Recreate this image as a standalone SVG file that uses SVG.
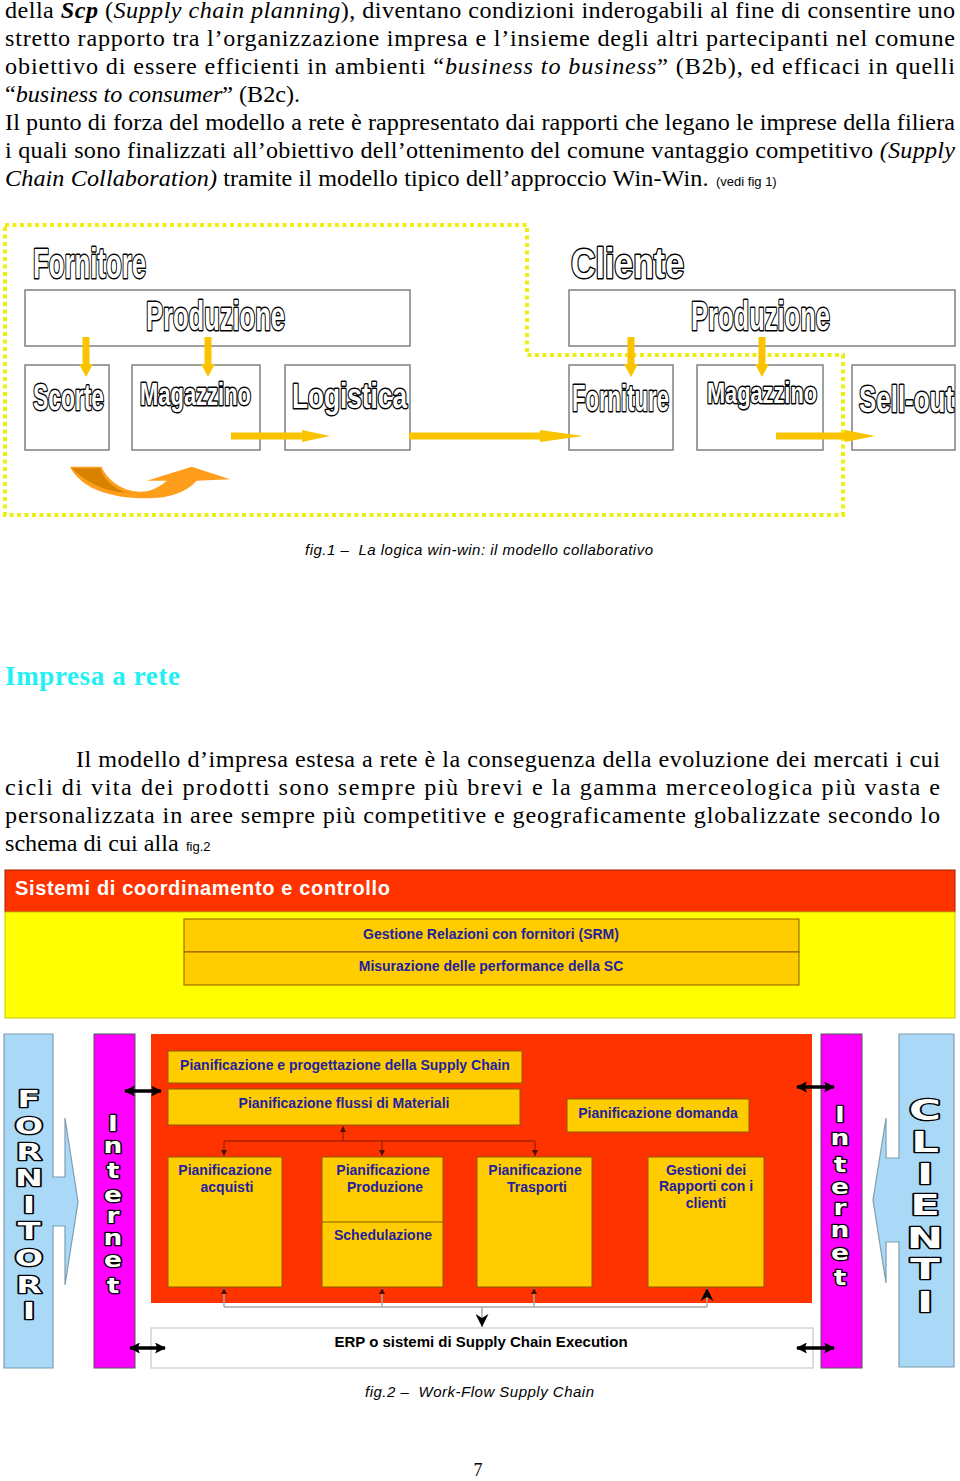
<svg xmlns="http://www.w3.org/2000/svg" width="960" height="1481" viewBox="0 0 960 1481">
<defs>
<style>
.body{font-family:"Liberation Serif","Times New Roman",serif;font-size:23px;fill:#000}
.it{font-style:italic}
.bi{font-style:italic;font-weight:bold}
.small{font-family:"Liberation Sans",Arial,sans-serif;font-size:13px;fill:#000}
.outl{font-family:"Liberation Sans Narrow","Liberation Sans",Arial,sans-serif;font-weight:bold;fill:#fff;stroke:#000;stroke-width:3;paint-order:stroke;stroke-linejoin:round}
.box1{fill:#fff;stroke:#808080;stroke-width:1.5}
.yarrow{fill:#F9C300}
.lbl{font-family:"Liberation Sans",Arial,sans-serif;font-weight:bold;font-size:14px;fill:#1F1F9F;text-anchor:middle}
.ybox{fill:#FFCC00;stroke:#8a5a00;stroke-width:1}
.cap{font-family:"Liberation Sans",Arial,sans-serif;font-style:italic;font-size:15px;fill:#000}
.vl{font-family:"DejaVu Sans",Verdana,sans-serif;font-weight:bold;fill:#fff;stroke:#000;stroke-width:2.6;paint-order:stroke;stroke-linejoin:round;text-anchor:middle}
.thin{fill:none;stroke:#7a1a00;stroke-width:1}
.gray{fill:none;stroke:#a8a8a8;stroke-width:1.5}
.dbl{fill:none;stroke:#000;stroke-width:3.5}
</style>
<marker id="sm" viewBox="0 0 10 10" refX="10" refY="5" markerWidth="6" markerHeight="6" markerUnits="userSpaceOnUse" orient="auto"><path d="M0,0 L10,5 L0,10 z" fill="#4a1000"/></marker>
<marker id="big" viewBox="0 0 10 10" refX="10" refY="5" markerWidth="13" markerHeight="13" markerUnits="userSpaceOnUse" orient="auto"><path d="M0,0 L10,5 L0,10 L3,5 z" fill="#000"/></marker>
<marker id="dh" viewBox="0 0 10 10" refX="9" refY="5" markerWidth="11" markerHeight="11" markerUnits="userSpaceOnUse" orient="auto-start-reverse"><path d="M0,0 L10,5 L0,10 L2,5 z" fill="#000"/></marker>
</defs>
<rect x="0" y="0" width="960" height="1481" fill="#fff"/>

<!-- Top paragraph -->
<g id="para1" transform="scale(1.05 1)">
<text class="body" x="4.76" y="18" textLength="904.8" lengthAdjust="spacing">della <tspan class="bi">Scp</tspan> (<tspan class="it">Supply chain planning</tspan>), diventano condizioni inderogabili al fine di consentire uno</text>
<text class="body" x="4.76" y="46" textLength="904.8" lengthAdjust="spacing">stretto rapporto tra l’organizzazione impresa e l’insieme degli altri partecipanti nel comune</text>
<text class="body" x="4.76" y="74" textLength="904.8" lengthAdjust="spacing">obiettivo di essere efficienti in ambienti “<tspan class="it">business to business</tspan>” (B2b), ed efficaci in quelli</text>
<text class="body" x="4.76" y="102">“<tspan class="it">business to consumer</tspan>” (B2c).</text>
<text class="body" x="4.76" y="130" textLength="904.8" lengthAdjust="spacing">Il punto di forza del modello a rete è rappresentato dai rapporti che legano le imprese della filiera</text>
<text class="body" x="4.76" y="158" textLength="904.8" lengthAdjust="spacing">i quali sono finalizzati all’obiettivo dell’ottenimento del comune vantaggio competitivo <tspan class="it">(Supply</tspan></text>
<text class="body" x="4.76" y="186" textLength="670" lengthAdjust="spacing"><tspan class="it">Chain Collaboration)</tspan> tramite il modello tipico dell’approccio Win-Win.</text>
</g>
<text class="small" x="716" y="186">(vedi fig 1)</text>

<!-- Figure 1 -->
<g id="fig1">
<path id="fig1-outline" d="M5,225 L527,225 L527,355 L843,355 L843,515 L5,515 Z" fill="none" stroke="#EEEE10" stroke-width="4" stroke-dasharray="4 3.5"/>
<g id="fornitore">
<text class="outl" x="33" y="278" font-size="43" textLength="113" lengthAdjust="spacingAndGlyphs">Fornitore</text>
</g>
<g id="produzione-f">
<rect class="box1" x="25" y="290" width="385" height="56"/>
<text class="outl" x="146" y="330" font-size="41" textLength="139" lengthAdjust="spacingAndGlyphs">Produzione</text>
</g>
<g id="scorte">
<rect class="box1" x="25" y="365" width="84" height="85"/>
<text class="outl" x="33" y="410" font-size="36" textLength="71" lengthAdjust="spacingAndGlyphs">Scorte</text>
</g>
<g id="magazzino-f">
<rect class="box1" x="132" y="365" width="128" height="85"/>
<text class="outl" x="140" y="405" font-size="31" textLength="111" lengthAdjust="spacingAndGlyphs">Magazzino</text>
</g>
<g id="logistica">
<rect class="box1" x="285" y="365" width="125" height="85"/>
<text class="outl" x="292" y="408" font-size="35" textLength="115" lengthAdjust="spacingAndGlyphs">Logistica</text>
</g>
<g id="cliente">
<text class="outl" x="571" y="278" font-size="43" textLength="113" lengthAdjust="spacingAndGlyphs">Cliente</text>
</g>
<g id="produzione-c">
<rect class="box1" x="569" y="290" width="386" height="56"/>
<text class="outl" x="691" y="330" font-size="41" textLength="139" lengthAdjust="spacingAndGlyphs">Produzione</text>
</g>
<g id="forniture">
<rect class="box1" x="569" y="365" width="104" height="85"/>
<text class="outl" x="572" y="411" font-size="37" textLength="97" lengthAdjust="spacingAndGlyphs">Forniture</text>
</g>
<g id="magazzino-c">
<rect class="box1" x="697" y="365" width="126" height="85"/>
<text class="outl" x="707" y="403" font-size="30" textLength="110" lengthAdjust="spacingAndGlyphs">Magazzino</text>
</g>
<g id="sellout">
<rect class="box1" x="852" y="365" width="103" height="85"/>
<text class="outl" x="859" y="412" font-size="37" textLength="95" lengthAdjust="spacingAndGlyphs">Sell-out</text>
</g>
<g id="fig1-connectors">
<polygon class="yarrow" points="82.5,337 89.5,337 89.5,364 93,364 86,377 79,364 82.5,364"/>
<polygon class="yarrow" points="204.5,337 211.5,337 211.5,364 215,364 208,377 201,364 204.5,364"/>
<polygon class="yarrow" points="627.5,337 634.5,337 634.5,364 638,364 631,377 624,364 627.5,364"/>
<polygon class="yarrow" points="758.5,337 765.5,337 765.5,364 769,364 762,377 755,364 758.5,364"/>
<polygon class="yarrow" points="231,432.5 302,432.5 302,430 330,436 302,442 302,439.5 231,439.5"/>
<polygon class="yarrow" points="409,432.5 540,432.5 540,430 583,436 540,442 540,439.5 409,439.5"/>
<polygon class="yarrow" points="776,432.5 845,432.5 845,430 875,436 845,442 845,439.5 776,439.5"/>
<path d="M70,466.7 L101.7,466.7 C106.7,480 123.3,491.7 140,491.7 C153.3,491.7 161.7,485 166.7,480.7 L146.7,480.7 L191.7,466.7 L230,479.3 L196.7,480.7 C186.7,491.7 170,498.3 146.7,498.3 C106.7,498.3 80,486.7 70,466.7 Z" fill="#FF9E1B"/>
<path d="M71.7,468.3 L100,468.3 C105,481.7 115,489 126.7,492.7 C110,492 90,486 71.7,468.3 Z" fill="#D98200"/>
</g>
<text class="cap" x="305" y="555" textLength="348" lengthAdjust="spacing" xml:space="preserve">fig.1 –  La logica win-win: il modello collaborativo</text>
</g>

<!-- Heading and second paragraph -->
<text x="5" y="685" font-family="Liberation Serif, Times New Roman, serif" font-weight="bold" font-size="27" fill="#22F0F5" textLength="175" lengthAdjust="spacing">Impresa a rete</text>
<g id="para2" transform="scale(1.05 1)">
<text class="body" x="72.38" y="767" textLength="822.9" lengthAdjust="spacing">Il modello d’impresa estesa a rete è la conseguenza della evoluzione dei mercati i cui</text>
<text class="body" x="4.76" y="795" textLength="890.5" lengthAdjust="spacing">cicli di vita dei prodotti sono sempre più brevi e la gamma merceologica più vasta e</text>
<text class="body" x="4.76" y="823" textLength="890.5" lengthAdjust="spacing">personalizzata in aree sempre più competitive e geograficamente globalizzate secondo lo</text>
<text class="body" x="4.76" y="851">schema di cui alla</text>
</g>
<text class="small" x="186" y="851">fig.2</text>

<!-- Figure 2 -->
<g id="fig2">
<g id="coordinamento">
<rect x="5" y="870" width="950" height="42" fill="#FF3300" stroke="#a02000" stroke-width="1"/>
<text x="15" y="895" font-family="Liberation Sans, Arial, sans-serif" font-weight="bold" font-size="20" fill="#fff" textLength="375" lengthAdjust="spacing">Sistemi di coordinamento e controllo</text>
</g>
<rect x="5" y="912" width="950" height="106" fill="#FFFF00" stroke="#c8c800" stroke-width="1"/>
<g id="srm">
<rect class="ybox" x="184" y="919" width="615" height="33"/>
<text class="lbl" x="491" y="939">Gestione Relazioni con fornitori (SRM)</text>
</g>
<g id="performance">
<rect class="ybox" x="184" y="952" width="615" height="33"/>
<text class="lbl" x="491" y="971">Misurazione delle performance della SC</text>
</g>

<g id="fornitori">
<path d="M4,1034 L53,1034 L53,1177 L65,1177 L65,1118 L78,1202 L65,1285 L65,1226 L53,1226 L53,1368 L4,1368 Z" fill="#A9D9F7" stroke="#7f9db0" stroke-width="1.2"/>
<g transform="translate(29 0) scale(1.45 1)" font-size="23" class="vl">
<text x="0" y="1107">F</text><text x="0" y="1134">O</text><text x="0" y="1160">R</text><text x="0" y="1186">N</text><text x="0" y="1213">I</text><text x="0" y="1239">T</text><text x="0" y="1266">O</text><text x="0" y="1293">R</text><text x="0" y="1319">I</text>
</g>
</g>
<g id="internet-left">
<rect x="94" y="1034" width="41" height="334" fill="#FF00FF" stroke="#555" stroke-width="1"/>
<g transform="translate(113 0) scale(1.2 1)" font-size="22" class="vl">
<text x="0" y="1131">I</text><text x="0" y="1153">n</text><text x="0" y="1178">t</text><text x="0" y="1202">e</text><text x="0" y="1223">r</text><text x="0" y="1245">n</text><text x="0" y="1267">e</text><text x="0" y="1293">t</text>
</g>
</g>
<g id="scm-area">
<rect x="151" y="1034" width="661" height="269" fill="#FF3300"/>
</g>
<g id="progettazione">
<rect class="ybox" x="168" y="1051" width="354" height="32"/>
<text class="lbl" x="345" y="1070">Pianificazione e progettazione della Supply Chain</text>
</g>
<g id="flussi">
<rect class="ybox" x="168" y="1089" width="352" height="36"/>
<text class="lbl" x="344" y="1108">Pianificazione flussi di Materiali</text>
</g>
<g id="domanda">
<rect class="ybox" x="567" y="1099" width="182" height="33"/>
<text class="lbl" x="658" y="1118">Pianificazione domanda</text>
</g>
<g id="acquisti">
<rect class="ybox" x="168" y="1157" width="114" height="130"/>
<text class="lbl" x="225" y="1175">Pianificazione</text>
<text class="lbl" x="227" y="1192">acquisti</text>
</g>
<g id="produzione">
<rect class="ybox" x="322" y="1157" width="121" height="130"/>
<line x1="322" y1="1222" x2="443" y2="1222" stroke="#8a5a00" stroke-width="1"/>
<text class="lbl" x="383" y="1175">Pianificazione</text>
<text class="lbl" x="385" y="1192">Produzione</text>
<text class="lbl" x="383" y="1240">Schedulazione</text>
</g>
<g id="trasporti">
<rect class="ybox" x="477" y="1157" width="115" height="130"/>
<text class="lbl" x="535" y="1175">Pianificazione</text>
<text class="lbl" x="537" y="1192">Trasporti</text>
</g>
<g id="rapporti-clienti">
<rect class="ybox" x="648" y="1157" width="116" height="130"/>
<text class="lbl" x="706" y="1175">Gestioni dei</text>
<text class="lbl" x="706" y="1191">Rapporti con i</text>
<text class="lbl" x="706" y="1208">clienti</text>
</g>
<g id="erp">
<rect x="151" y="1328" width="662" height="40" fill="#fff" stroke="#c8c8c8" stroke-width="1.2"/>
<text x="481" y="1347" font-family="Liberation Sans, Arial, sans-serif" font-weight="bold" font-size="15" fill="#000" text-anchor="middle">ERP o sistemi di Supply Chain Execution</text>
</g>
<g id="internet-right">
<rect x="821" y="1034" width="41" height="334" fill="#FF00FF" stroke="#555" stroke-width="1"/>
<g transform="translate(840 0) scale(1.2 1)" font-size="22" class="vl">
<text x="0" y="1122">I</text><text x="0" y="1145">n</text><text x="0" y="1172">t</text><text x="0" y="1194">e</text><text x="0" y="1215">r</text><text x="0" y="1237">n</text><text x="0" y="1260">e</text><text x="0" y="1285">t</text>
</g>
</g>
<g id="clienti">
<path d="M954,1034 L899,1034 L899,1158 L886,1158 L886,1118 L873,1200 L886,1283 L886,1242 L899,1242 L899,1367 L954,1367 Z" fill="#A9D9F7" stroke="#7f9db0" stroke-width="1.2"/>
<g transform="translate(925 0) scale(1.5 1)" font-size="29" class="vl">
<text x="0" y="1120">C</text><text x="0" y="1152">L</text><text x="0" y="1184">I</text><text x="0" y="1215">E</text><text x="0" y="1248">N</text><text x="0" y="1279">T</text><text x="0" y="1312">I</text>
</g>
</g>
<g id="fig2-connectors">
<path class="thin" d="M343,1141 L343,1126" marker-end="url(#sm)"/>
<path class="thin" d="M224,1141 L535,1141"/>
<path class="thin" d="M224,1141 L224,1156" marker-end="url(#sm)"/>
<path class="thin" d="M382,1141 L382,1156" marker-end="url(#sm)"/>
<path class="thin" d="M535,1141 L535,1156" marker-end="url(#sm)"/>
<path class="gray" d="M224,1307 L707,1307"/>
<path class="gray" d="M224,1307 L224,1288" marker-end="url(#sm)"/>
<path class="gray" d="M382,1307 L382,1288" marker-end="url(#sm)"/>
<path class="gray" d="M534,1307 L534,1288" marker-end="url(#sm)"/>
<path class="gray" d="M707,1307 L707,1288" marker-end="url(#big)"/>
<path class="gray" d="M482,1307 L482,1327" marker-end="url(#big)"/>
<path class="dbl" d="M125,1091 L161,1091" marker-start="url(#dh)" marker-end="url(#dh)"/>
<path class="dbl" d="M130,1348 L165,1348" marker-start="url(#dh)" marker-end="url(#dh)"/>
<path class="dbl" d="M797,1087 L834,1087" marker-start="url(#dh)" marker-end="url(#dh)"/>
<path class="dbl" d="M797,1348 L834,1348" marker-start="url(#dh)" marker-end="url(#dh)"/>
</g>
<text class="cap" x="365" y="1397" textLength="229" lengthAdjust="spacing" xml:space="preserve">fig.2 –  Work-Flow Supply Chain</text>
</g>
<text x="478" y="1476" font-family="Liberation Serif, Times New Roman, serif" font-size="18" text-anchor="middle" fill="#000">7</text>
</svg>
